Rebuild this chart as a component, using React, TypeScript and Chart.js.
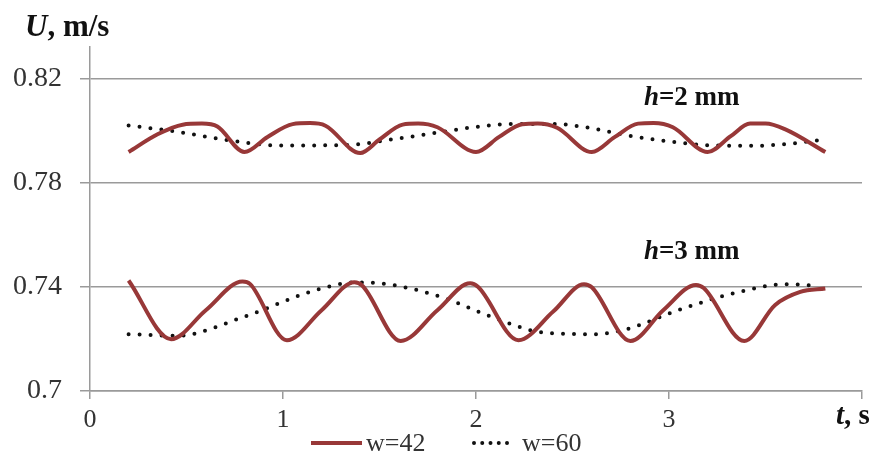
import React, { useEffect, useRef } from 'react';
import { Chart, registerables } from 'chart.js';

Chart.register(...registerables);

const SERIF = '"Liberation Serif", "Times New Roman", serif';

// Time axis (s)
const xTickValues = [0, 1, 2, 3, 4];
const xTickLabels = ['0', '1', '2', '3', ''];
// Velocity axis (m/s)
const yTickValues = [0.7, 0.74, 0.78, 0.82];
const yTickLabels = ['0.7', '0.74', '0.78', '0.82'];

// h = 2 mm, w = 42
const tW42H2 = [0.2, 0.35, 0.48, 0.58, 0.66, 0.8, 0.92, 1.05, 1.14, 1.22, 1.4, 1.5, 1.62, 1.7, 1.8, 2.0, 2.12, 2.24, 2.32, 2.42, 2.6, 2.72, 2.84, 2.92, 3.02, 3.2, 3.32, 3.42, 3.5, 3.6, 3.81];
const uW42H2 = [0.7917, 0.7985, 0.8022, 0.8026, 0.8015, 0.7917, 0.7975, 0.8024, 0.8028, 0.8018, 0.7913, 0.7965, 0.8022, 0.8026, 0.8012, 0.7917, 0.7975, 0.8024, 0.8026, 0.801, 0.7917, 0.7975, 0.8026, 0.8028, 0.8012, 0.7917, 0.7978, 0.8026, 0.8026, 0.8005, 0.7917];

// h = 2 mm, w = 60
const tW60H2 = [0.2, 0.45, 0.72, 0.98, 1.33, 1.59, 1.76, 2.02, 2.2, 2.4, 2.6, 2.78, 3.0, 3.23, 3.45, 3.64, 3.77];
const uW60H2 = [0.8019, 0.7995, 0.7962, 0.7942, 0.7944, 0.7968, 0.7987, 0.8015, 0.8025, 0.8025, 0.8008, 0.7981, 0.7958, 0.7942, 0.7941, 0.795, 0.7962];

// h = 3 mm, w = 42
const tW42H3 = [0.2, 0.42, 0.6, 0.79, 0.83, 1.02, 1.2, 1.37, 1.41, 1.61, 1.8, 1.97, 2.01, 2.22, 2.4, 2.56, 2.6, 2.8, 2.97, 3.14, 3.18, 3.39, 3.55, 3.68, 3.81];
const uW42H3 = [0.7424, 0.7199, 0.731, 0.742, 0.741, 0.7195, 0.731, 0.7417, 0.7405, 0.7192, 0.731, 0.7413, 0.74, 0.7195, 0.7305, 0.741, 0.7398, 0.7192, 0.731, 0.7407, 0.7395, 0.7192, 0.733, 0.738, 0.7393];

// h = 3 mm, w = 60
const tW60H3 = [0.2, 0.45, 0.81, 1.16, 1.38, 1.59, 1.85, 2.0, 2.09, 2.35, 2.61, 2.78, 3.04, 3.35, 3.61, 3.77];
const uW60H3 = [0.7218, 0.7212, 0.7288, 0.7385, 0.7417, 0.7404, 0.7353, 0.7308, 0.7282, 0.7224, 0.7218, 0.7237, 0.7308, 0.7378, 0.741, 0.7404];

// Curve annotations
const hLabels = ['=2 mm', '=3 mm'];
const hLabelT = [2.87, 2.87];
const hLabelU = [0.8096, 0.7508];

const toPoints = (t: number[], u: number[]) => t.map((x, i) => ({ x, y: u[i] }));

export default function App() {
  const ref = useRef<HTMLCanvasElement>(null);

  useEffect(() => {
    if (!ref.current) return;
    const red = '#983838';
    const dark = '#111111';

    const solid = (label: string, data: any) => ({
      label,
      data,
      borderColor: red,
      backgroundColor: red,
      borderWidth: 4,
      pointRadius: 0,
      cubicInterpolationMode: 'monotone' as const,
      fill: false,
    });
    const dotted = (label: string, data: any) => ({
      label,
      data,
      borderColor: dark,
      backgroundColor: dark,
      borderWidth: 4,
      borderDash: [0, 11],
      borderCapStyle: 'round' as const,
      pointRadius: 0,
      cubicInterpolationMode: 'monotone' as const,
      fill: false,
    });

    const textPlugin = {
      id: 'texts',
      afterDraw(chart: any) {
        const { ctx, scales } = chart;
        ctx.save();
        ctx.fillStyle = '#111';
        ctx.textBaseline = 'alphabetic';
        ctx.textAlign = 'left';
        const drawMixed = (parts: [string, string][], x: number, y: number) => {
          let cx = x;
          for (const [txt, font] of parts) {
            ctx.font = font;
            ctx.fillText(txt, cx, y);
            cx += ctx.measureText(txt).width;
          }
        };
        drawMixed([['U', `italic bold 31px ${SERIF}`], [', m/s', `bold 31px ${SERIF}`]], 25, 36);
        drawMixed([['t', `italic bold 29px ${SERIF}`], [', s', `bold 29px ${SERIF}`]], 836, 424);
        hLabels.forEach((lab, i) => {
          drawMixed(
            [['h', `italic bold 27px ${SERIF}`], [lab, `bold 27px ${SERIF}`]],
            scales.x.getPixelForValue(hLabelT[i]),
            scales.y.getPixelForValue(hLabelU[i])
          );
        });

        // Legend (first two datasets: one entry per w value)
        const ly = 443;
        const items = chart.data.datasets.slice(0, 2);
        const layout = [
          { x0: 311, x1: 362, tx: 366 },
          { x0: 474, x1: 507, tx: 522 },
        ];
        items.forEach((ds: any, i: number) => {
          const p = layout[i];
          ctx.save();
          ctx.strokeStyle = ds.borderColor;
          ctx.lineWidth = ds.borderWidth;
          if (ds.borderDash) {
            ctx.setLineDash([0, 8.25]);
            ctx.lineCap = 'round';
          } else {
            ctx.lineCap = 'butt';
          }
          ctx.beginPath();
          ctx.moveTo(p.x0, ly);
          ctx.lineTo(p.x1 + (ds.borderDash ? 0.1 : 0), ly);
          ctx.stroke();
          ctx.restore();
          ctx.font = `26px ${SERIF}`;
          ctx.fillStyle = '#333';
          ctx.textBaseline = 'middle';
          ctx.fillText(ds.label, p.tx, ly + 1);
        });
        ctx.restore();
      },
    };

    const chart = new Chart(ref.current, {
      type: 'line',
      data: {
        datasets: [
          solid('w=42', toPoints(tW42H2, uW42H2)),
          dotted('w=60', toPoints(tW60H2, uW60H2)),
          solid('w=42', toPoints(tW42H3, uW42H3)),
          dotted('w=60', toPoints(tW60H3, uW60H3)),
        ],
      },
      plugins: [textPlugin],
      options: {
        animation: false,
        responsive: true,
        maintainAspectRatio: false,
        layout: { padding: { top: 47, right: 22, left: 0, bottom: 0 } },
        plugins: {
          tooltip: { enabled: false },
          legend: { display: false },
        },
        scales: {
          x: {
            type: 'linear',
            min: 0,
            max: 4,
            afterBuildTicks: (scale: any) => {
              scale.ticks = xTickValues.map((v) => ({ value: v }));
            },
            afterFit: (scale: any) => {
              scale.height = 69;
            },
            ticks: {
              padding: 6,
              color: '#333',
              font: { family: SERIF, size: 26 },
              maxRotation: 0,
              callback: (v: any) => xTickLabels[xTickValues.indexOf(Number(v))] ?? '',
            },
            grid: {
              drawOnChartArea: false,
              drawTicks: true,
              tickLength: 8,
              color: '#9a9a9a',
              lineWidth: 1.5,
            },
            border: { color: '#9a9a9a', width: 1.5 },
          },
          y: {
            type: 'linear',
            min: 0.7,
            max: 0.832,
            afterBuildTicks: (scale: any) => {
              scale.ticks = yTickValues.map((v) => ({ value: v }));
            },
            afterFit: (scale: any) => {
              scale.width = 90;
            },
            ticks: {
              padding: 18,
              color: '#333',
              font: { family: SERIF, size: 28 },
              callback: (v: any) => {
                const idx = yTickValues.findIndex((t) => Math.abs(t - Number(v)) < 1e-6);
                return idx >= 0 ? yTickLabels[idx] : '';
              },
            },
            grid: {
              drawTicks: true,
              tickLength: 10,
              color: '#9a9a9a',
              lineWidth: 1.5,
            },
            border: { color: '#9a9a9a', width: 1.5 },
          },
        },
      },
    } as any);

    return () => chart.destroy();
  }, []);

  return (
    <div style={{ position: 'fixed', left: 0, top: 0, width: 884, height: 460, background: '#fff' }}>
      <canvas ref={ref} />
    </div>
  );
}
